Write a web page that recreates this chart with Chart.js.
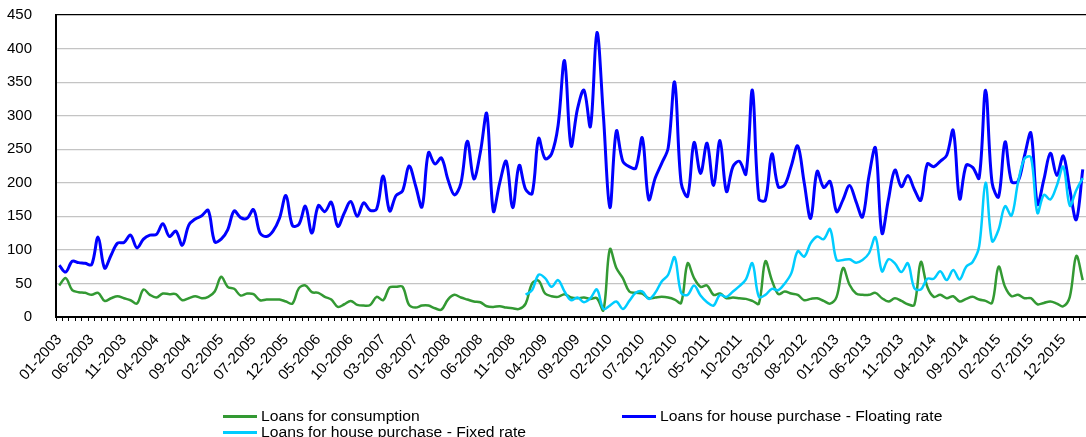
<!DOCTYPE html>
<html>
<head>
<meta charset="utf-8">
<script src="https://cdn.jsdelivr.net/npm/chart.js@4.4.1/dist/chart.umd.min.js"></script>
<style>
  html, body { margin: 0; padding: 0; background: #fff; overflow: hidden; }
  #wrap { position: relative; width: 1086px; height: 437px; overflow: hidden; }
  #chart { position: absolute; left: 0; top: 0; }
  .legend-item { position: absolute; display: flex; align-items: center; transform: translateY(-50%);
    font: 14px "Liberation Sans", Arial, sans-serif; color: #000; white-space: nowrap; }
  .legend-line { width: 34px; height: 3px; margin-right: 4px; }
  .legend-text { display: inline-block; transform: scaleX(1.12); transform-origin: left center; }
</style>
</head>
<body>
<div id="wrap">
  <canvas id="chart" width="1086" height="437"></canvas>
  <div id="legend"></div>
</div>
<script>
const FONT = '"Liberation Sans", Arial, sans-serif';

const months = [
  '01-2003','02-2003','03-2003','04-2003','05-2003','06-2003','07-2003','08-2003','09-2003','10-2003','11-2003','12-2003',
  '01-2004','02-2004','03-2004','04-2004','05-2004','06-2004','07-2004','08-2004','09-2004','10-2004','11-2004','12-2004',
  '01-2005','02-2005','03-2005','04-2005','05-2005','06-2005','07-2005','08-2005','09-2005','10-2005','11-2005','12-2005',
  '01-2006','02-2006','03-2006','04-2006','05-2006','06-2006','07-2006','08-2006','09-2006','10-2006','11-2006','12-2006',
  '01-2007','02-2007','03-2007','04-2007','05-2007','06-2007','07-2007','08-2007','09-2007','10-2007','11-2007','12-2007',
  '01-2008','02-2008','03-2008','04-2008','05-2008','06-2008','07-2008','08-2008','09-2008','10-2008','11-2008','12-2008',
  '01-2009','02-2009','03-2009','04-2009','05-2009','06-2009','07-2009','08-2009','09-2009','10-2009','11-2009','12-2009',
  '01-2010','02-2010','03-2010','04-2010','05-2010','06-2010','07-2010','08-2010','09-2010','10-2010','11-2010','12-2010',
  '01-2011','02-2011','03-2011','04-2011','05-2011','06-2011','07-2011','08-2011','09-2011','10-2011','11-2011','12-2011',
  '01-2012','02-2012','03-2012','04-2012','05-2012','06-2012','07-2012','08-2012','09-2012','10-2012','11-2012','12-2012',
  '01-2013','02-2013','03-2013','04-2013','05-2013','06-2013','07-2013','08-2013','09-2013','10-2013','11-2013','12-2013',
  '01-2014','02-2014','03-2014','04-2014','05-2014','06-2014','07-2014','08-2014','09-2014','10-2014','11-2014','12-2014',
  '01-2015','02-2015','03-2015','04-2015','05-2015','06-2015','07-2015','08-2015','09-2015','10-2015','11-2015','12-2015',
  '01-2016','02-2016','03-2016'
];

// loans for consumption
const consumption = [
  47, 58, 40, 37, 36, 33, 36, 24, 28, 31, 28, 25,
  20, 41, 33, 29, 35, 34, 34, 25, 28, 31, 28, 30,
  38, 60, 45, 42, 32, 35, 34, 25, 26, 26, 26, 23,
  20, 43, 47, 37, 36, 30, 26, 15, 19, 24, 18, 17,
  18, 30, 25, 44, 45, 45, 18, 14, 17, 17, 13, 11,
  26, 33, 29, 26, 23, 22, 16, 15, 16, 14, 13, 12,
  20, 50, 54, 35, 31, 30, 34, 29, 28, 29, 27, 28,
  10, 101, 73, 58, 38, 36, 35, 28, 29, 30, 29, 26,
  21, 80, 58, 45, 47, 33, 35, 28, 29, 28, 27, 24,
  20, 83, 55, 34, 38, 35, 33, 25, 27, 28, 24, 20,
  30, 73, 48, 35, 33, 33, 36, 28, 23, 28, 24, 19,
  18, 82, 45, 30, 33, 28, 31, 23, 27, 30, 26, 24,
  21, 75, 45, 31, 33, 28, 28, 19, 21, 23, 20, 16,
  30, 91, 55
];

// loans for house purchase - floating rate
const floatingRate = [
  77, 67, 83, 81, 80, 78, 119, 73, 92, 110, 111, 122,
  103, 116, 122, 123, 139, 120, 128, 107, 137, 146, 151, 159,
  112, 116, 130, 158, 148, 147, 160, 125, 120, 128, 147, 181,
  136, 138, 165, 125, 166, 157, 171, 135, 155, 172, 150, 170,
  159, 161, 210, 158, 181, 188, 225, 196, 164, 245, 228, 237,
  205, 182, 199, 262, 206, 245, 303, 158, 200, 232, 163, 226,
  190, 184, 266, 236, 243, 285, 382, 255, 310, 338, 284, 424,
  300, 163, 277, 232, 224, 222, 267, 175, 207, 229, 252, 350,
  200, 180, 260, 214, 259, 196, 263, 187, 224, 232, 213, 338,
  176, 174, 243, 194, 197, 225, 255, 200, 147, 217, 193, 202,
  157, 175, 196, 172, 149, 210, 252, 125, 175, 219, 194, 211,
  190, 174, 228, 224, 232, 241, 278, 176, 226, 223, 207, 338,
  200, 179, 261, 202, 202, 240, 274, 168, 205, 244, 211, 240,
  190, 145, 220
];

// loans for house purchase - fixed rate, reported from 01-2009
const fixedStart = '01-2009';
const fixedRate = [
  33, 40, 63, 58, 45, 55, 38, 25, 29, 22, 28, 41,
  12, 17, 23, 12, 24, 36, 38, 27, 36, 53, 63, 89,
  36, 33, 47, 32, 22, 17, 33, 30, 38, 46, 56, 80,
  30, 33, 42, 40, 50, 65, 98, 90, 110, 120, 116, 131,
  85, 85, 86, 81, 85, 95, 119, 68, 86, 80, 67, 80,
  43, 41, 57, 57, 68, 55, 70, 56, 75, 82, 105, 200,
  113, 130, 165, 151, 200, 236, 238, 155, 182, 175, 196, 224,
  166, 189, 207
];

const yTicks = [0, 50, 100, 150, 200, 250, 300, 350, 400, 450];

const seriesNames = [
  'Loans for consumption',
  'Loans for house purchase - Floating rate',
  'Loans for house purchase - Fixed rate'
];
const seriesColors = ['#339933', '#0000ff', '#00ccff'];

const offset = months.indexOf(fixedStart);
const fixedData = months.map((m, i) => (i < offset ? null : fixedRate[i - offset]));

const lineDataset = (label, data, color, width, order) => ({
  label: label,
  data: data,
  borderColor: color,
  backgroundColor: color,
  borderWidth: width,
  pointRadius: 0,
  pointHoverRadius: 0,
  fill: false,
  tension: 0.35,
  spanGaps: false,
  order: order
});

const chart = new Chart(document.getElementById('chart'), {
  type: 'line',
  data: {
    labels: months,
    datasets: [
      lineDataset(seriesNames[0], consumption, seriesColors[0], 2.5, 2),
      lineDataset(seriesNames[1], floatingRate, seriesColors[1], 3, 1),
      lineDataset(seriesNames[2], fixedData, seriesColors[2], 2.5, 0)
    ]
  },
  options: {
    responsive: false,
    animation: false,
    layout: { padding: { top: 15, right: 0, bottom: 0, left: 0 } },
    plugins: {
      legend: { display: false },
      tooltip: { enabled: false }
    },
    scales: {
      x: {
        type: 'category',
        offset: true,
        grid: {
          offset: true,
          drawOnChartArea: false,
          drawTicks: true,
          tickLength: 4,
          color: '#000'
        },
        border: { color: '#000', width: 2 },
        ticks: {
          autoSkip: false,
          minRotation: 48,
          maxRotation: 48,
          padding: 10,
          color: '#000',
          font: { family: FONT, size: 15 },
          callback: (value, index) => (index % 5 === 0 ? months[index] : '')
        },
        afterFit: (scale) => {
          // fixed axis band; rotated labels must not shrink the plot sideways
          scale.height = 120;
          scale.paddingLeft = 0;
          scale.paddingRight = 0;
        }
      },
      y: {
        min: 0,
        max: 450,
        afterBuildTicks: (scale) => { scale.ticks = yTicks.map((v) => ({ value: v })); },
        grid: {
          drawTicks: false,
          lineWidth: 1.2,
          color: (ctx) => (ctx.tick && ctx.tick.value === 450 ? '#000' : '#c4c4c4')
        },
        border: { color: '#000', width: 2 },
        ticks: {
          padding: 24,
          color: '#000',
          font: { family: FONT, size: 15 }
        },
        afterFit: (scale) => {
          scale.width = 56;
          scale.paddingTop = 0;
          scale.paddingBottom = 0;
        }
      }
    }
  }
});

// legend laid out like the original two-column grid
const legendSlots = [
  { left: 223, top: 416 },
  { left: 622, top: 416 },
  { left: 223, top: 432 }
];
const legendBox = document.getElementById('legend');
chart.data.datasets.forEach((ds, i) => {
  const item = document.createElement('div');
  item.className = 'legend-item';
  item.style.left = legendSlots[i].left + 'px';
  item.style.top = legendSlots[i].top + 'px';
  const line = document.createElement('span');
  line.className = 'legend-line';
  line.style.background = ds.borderColor;
  const text = document.createElement('span');
  text.className = 'legend-text';
  text.textContent = ds.label;
  item.appendChild(line);
  item.appendChild(text);
  legendBox.appendChild(item);
});
</script>
</body>
</html>
